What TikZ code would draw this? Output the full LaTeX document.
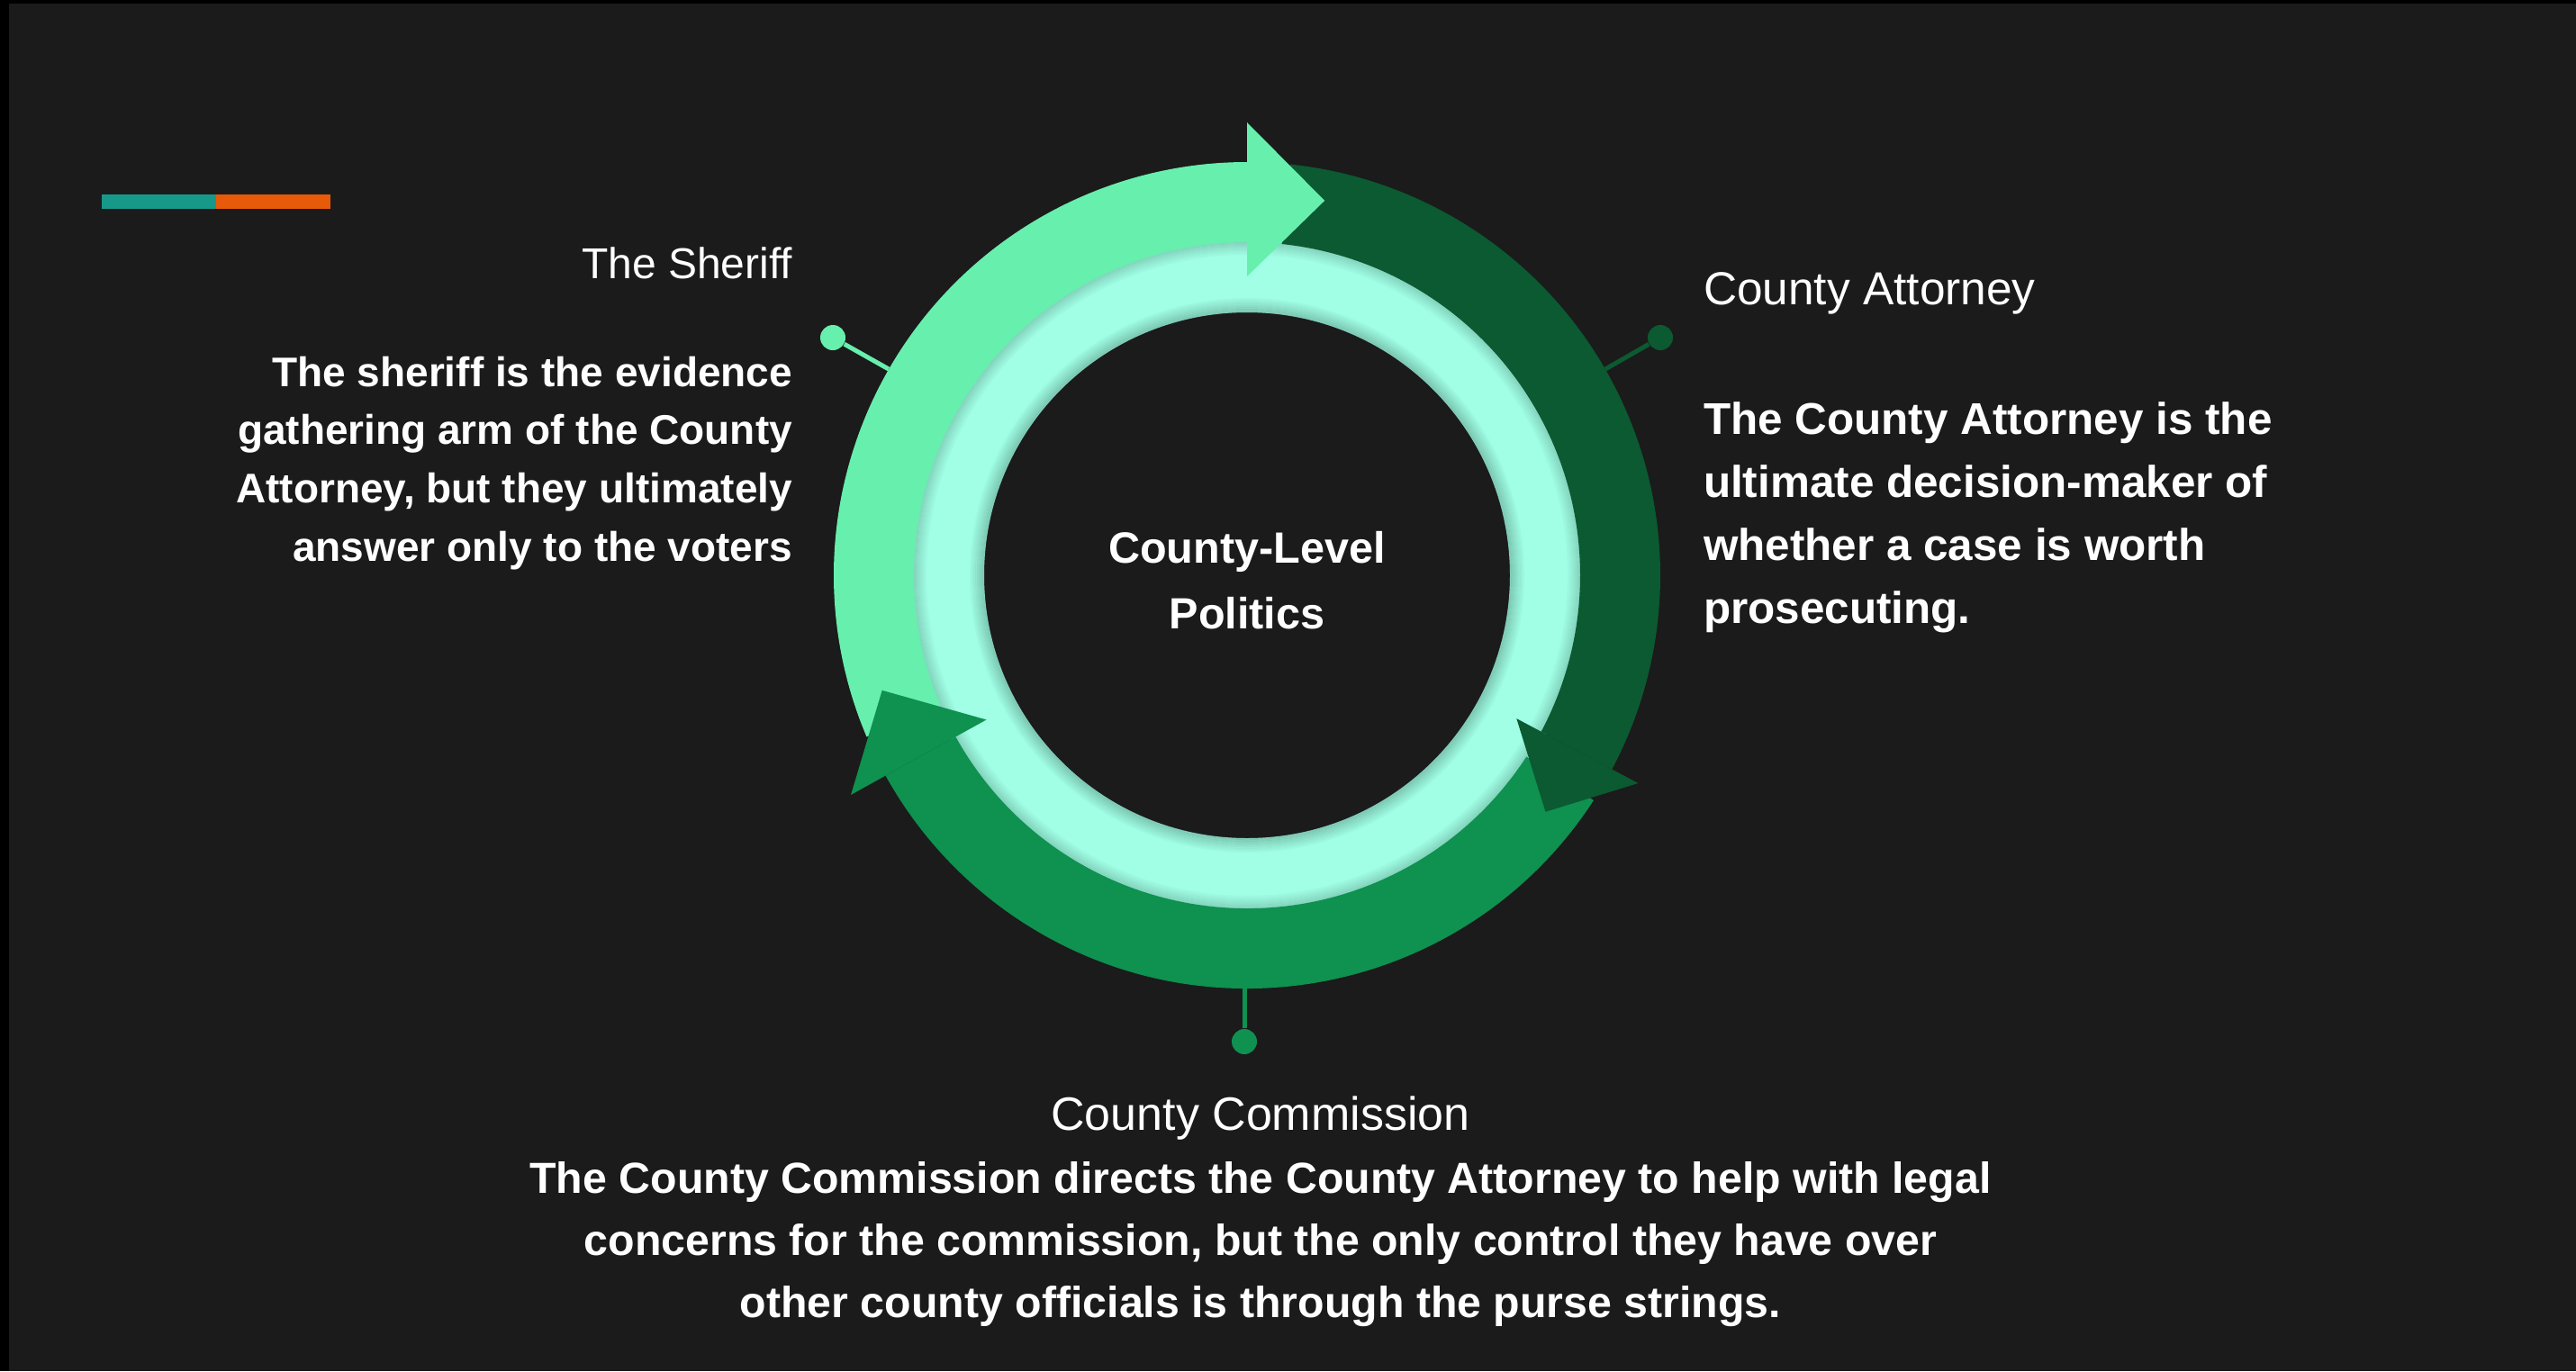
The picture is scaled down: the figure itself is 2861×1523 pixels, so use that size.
\documentclass[tikz,border=0pt]{standalone}
\usepackage{fontspec}
\setmainfont{Liberation Sans}
\definecolor{bgc}{HTML}{1B1B1B}
\definecolor{lightg}{HTML}{67EFAE}
\definecolor{cyanr}{HTML}{A0FFE5}
\definecolor{darkg}{HTML}{0B5A31}
\definecolor{medg}{HTML}{0F9150}
\definecolor{tealbar}{HTML}{17998A}
\definecolor{orangebar}{HTML}{E65A0A}
\begin{document}
\begin{tikzpicture}[x=0.35pt,y=0.35pt,
  txt/.style={text=white, inner sep=0pt, outer sep=0pt},
  dotnode/.style={circle, minimum size=9.8pt, inner sep=0pt},
  conn/.style={line width=1.75pt}]
% background
\fill[bgc] (0,0) rectangle (2861,-1523);
\useasboundingbox (0,0) rectangle (2861,-1523);
\fill[black] (0,0) rectangle (2861,-4);
\fill[black] (0,0) rectangle (10,-1523);
% top-left bar
\fill[tealbar] (113,-216) rectangle (240,-232);
\fill[orangebar] (240,-216) rectangle (367,-232);
% cycle
\begin{scope}[shift={(1385,-639)}]
  % cyan ring
  \fill[cyanr, even odd rule] (0,0) circle[radius=376] (0,0) circle[radius=292];
  \foreach \k in {0,...,7}{
    \draw[black, opacity={0.022*(8-\k)}, line width=0.7pt] (0,0) circle[radius={371-2*\k}];
    \draw[black, opacity={0.025*(8-\k)}, line width=0.7pt] (0,0) circle[radius={293+2*\k}];
  }
  % bodies
  \fill[lightg] (203:459) arc[start angle=203, end angle=90, radius=459]
     -- (90:370) arc[start angle=90, end angle=203, radius=370] -- cycle;
  \fill[darkg] (84:459) arc[start angle=84, end angle=-28, radius=459]
     -- (-28:370) arc[start angle=-28, end angle=84, radius=370] -- cycle;
  \fill[medg] (-33:459) arc[start angle=-33, end angle=-151, radius=459]
     -- (-151:370) arc[start angle=-151, end angle=-33, radius=370] -- cycle;
  % heads
  \fill[lightg] (90:503) -- (78.3:425) -- (90:332) -- cycle;
  \fill[darkg] (-28:492) -- (-38.4:423) -- (-28:339) -- cycle;
  \fill[medg] (209:503) -- (197.5:425) -- (209:331) -- cycle;
\end{scope}
% connectors
\node[dotnode, fill=lightg] (shdot) at (925,-375) {};
\coordinate (shring) at (987,-410);
\draw[conn, lightg] (shdot) -- (shring);
\node[dotnode, fill=darkg] (atdot) at (1844,-375) {};
\coordinate (atring) at (1783,-410);
\draw[conn, darkg] (atdot) -- (atring);
\node[dotnode, fill=medg] (cmdot) at (1382,-1157) {};
\coordinate (cmring) at (1382,-1094);
\draw[conn, medg] (cmdot) -- (cmring);
% texts
\node[txt, anchor=base] (center) at (1385,-625)
  {\parbox[t]{200pt}{\centering\fontsize{17pt}{25.55pt}\selectfont\bfseries County-Level\\Politics}};
\node[txt, anchor=base east] (shtitle) at (880,-309)
  {\fontsize{16.8pt}{20pt}\selectfont The Sheriff};
\node[txt, anchor=base east] (shbody) at (880,-429)
  {\parbox[t]{260pt}{\raggedleft\fontsize{16.1pt}{22.65pt}\selectfont\bfseries The sheriff is the evidence\\gathering arm of the County\\Attorney, but they ultimately\\answer only to the voters}};
\node[txt, anchor=base west] (attitle) at (1892,-338)
  {\fontsize{18pt}{22pt}\selectfont County Attorney};
\node[txt, anchor=base west] (atbody) at (1892,-482)
  {\parbox[t]{300pt}{\raggedright\fontsize{17.3pt}{24.6pt}\selectfont\bfseries The County Attorney is the\\ultimate decision-maker of\\whether a case is worth\\prosecuting.}};
\node[txt, anchor=base] (cmtitle) at (1400,-1255)
  {\fontsize{18.2pt}{22pt}\selectfont County Commission};
\node[txt, anchor=base] (cmbody) at (1400,-1325)
  {\parbox[t]{650pt}{\centering\fontsize{16.9pt}{24.3pt}\selectfont\bfseries The County Commission directs the County Attorney to help with legal\\concerns for the commission, but the only control they have over\\other county officials is through the purse strings.}};
\end{tikzpicture}
\end{document}
